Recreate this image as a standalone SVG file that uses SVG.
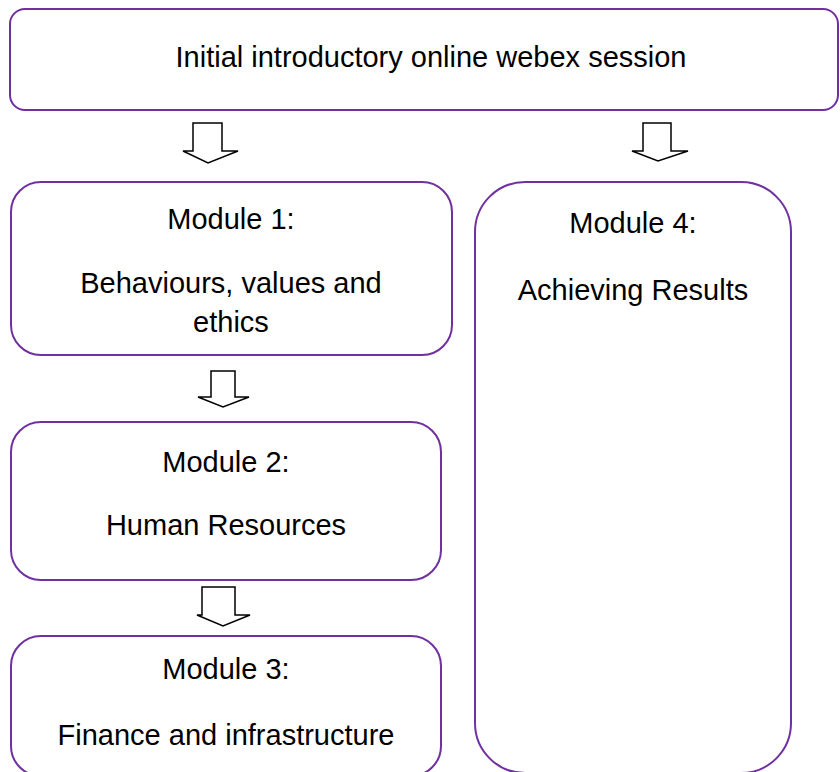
<svg xmlns="http://www.w3.org/2000/svg" width="840" height="772" viewBox="0 0 840 772">
<style>
.box{fill:#fff;stroke:#7030A0;stroke-width:2}
.arr{fill:#fff;stroke:#000;stroke-width:1.5;stroke-linejoin:miter}
text{font-family:"Liberation Sans",Arial,sans-serif;font-size:29px;fill:#000;text-anchor:middle}
</style>
<rect width="840" height="772" fill="#fff"/>
<g id="intro">
<rect class="box" x="10" y="9" width="828" height="101" rx="15"/>
<text x="431" y="67">Initial introductory online webex session</text>
</g>
<g id="module1">
<rect class="box" x="11" y="182" width="441" height="173" rx="30"/>
<text x="231" y="229">Module 1:</text>
<text x="231" y="293">Behaviours, values and</text>
<text x="231" y="332">ethics</text>
</g>
<g id="module2">
<rect class="box" x="11" y="422" width="430" height="158" rx="30"/>
<text x="226" y="472">Module 2:</text>
<text x="226" y="535">Human Resources</text>
</g>
<g id="module3">
<rect class="box" x="11" y="636" width="430" height="140" rx="30"/>
<text x="226" y="679">Module 3:</text>
<text x="226" y="745">Finance and infrastructure</text>
</g>
<g id="module4">
<rect class="box" x="475" y="182" width="316" height="591" rx="50"/>
<text x="633" y="233">Module 4:</text>
<text x="633" y="300">Achieving Results</text>
</g>
<g id="connectors">
<path class="arr" d="M193,123 H222 V151 H238 L208,163 L183,151 H193 Z"/>
<path class="arr" d="M643,123 H671 V151 H688 L658,161 L632,151 H643 Z"/>
<path class="arr" d="M211,371 H235 V397 H249 L223,407 L198,397 H211 Z"/>
<path class="arr" d="M202,587 H235 V615 H250 L223,626 L197,615 H202 Z"/>
</g>
</svg>
